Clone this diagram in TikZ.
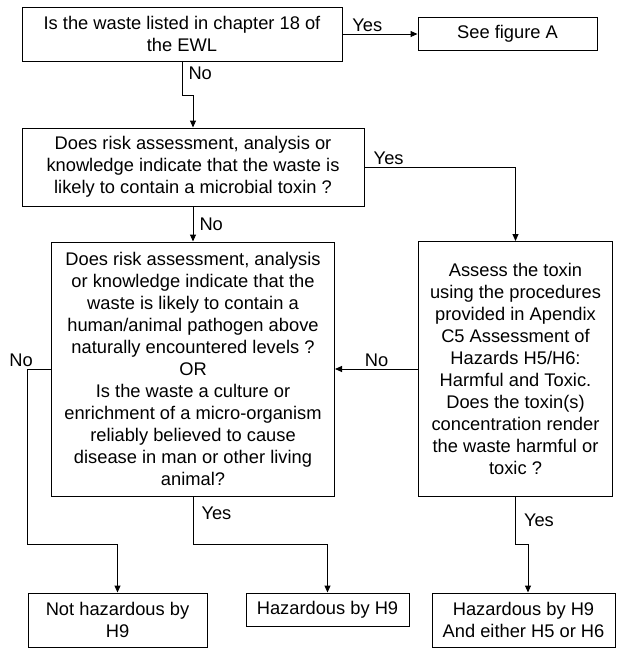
\documentclass[tikz,border=0pt]{standalone}
\usepackage{fontspec}
\setmainfont{Liberation Sans}
\usepackage{tikz}
\usetikzlibrary{arrows.meta,positioning}

\begin{document}
\begin{tikzpicture}[x=1pt,y=-1pt,
  box/.style={draw,line width=1pt,align=center,inner sep=0pt,
    font=\fontsize{18.3}{22}\selectfont},
  flow/.style={line width=1pt,-{Triangle[length=7pt,width=6pt]}},
  lbl/.style={font=\fontsize{18.3}{22}\selectfont,inner sep=2pt}]

\useasboundingbox (0,0) rectangle (616,648);

\node[box,minimum width=320pt,minimum height=54pt] (q1) at (182,34)
  {Is the waste listed in chapter 18 of\\the EWL};

\node[box,minimum width=179pt,minimum height=33pt,right=75pt of q1] (figA)
  {See figure A};

\draw [flow] (q1.east) -- node[lbl,above,pos=0.33] {Yes} (figA.west);

\node[box,minimum width=342pt,minimum height=78pt] (q2) at (193,167)
  {Does risk assessment, analysis or\\knowledge indicate that the waste is\\likely to contain a microbial toxin ?};

\draw [flow] (q1.south) -- node[lbl,right,pos=0.35,xshift=4pt] {No} ++(0,34) -| (q2.north);

\node[box,minimum width=283pt,minimum height=254pt] (q3) at (193,369)
  {Does risk assessment, analysis\\or knowledge indicate that the\\waste is likely to contain a\\human/animal pathogen above\\naturally encountered levels ?\\OR\\Is the waste a culture or\\enrichment of a micro-organism\\reliably believed to cause\\disease in man or other living\\animal?};

\draw [flow] (q2.south) -- node[lbl,right,xshift=4pt] {No} (q3.north);

\node[box,minimum width=194pt,minimum height=255pt,right=83pt of q3] (assess)
  {Assess the toxin\\using the procedures\\provided in Apendix\\C5 Assessment of\\Hazards H5/H6:\\Harmful and Toxic.\\Does the toxin(s)\\concentration render\\the waste harmful or\\toxic ?};

\draw [flow] (q2.east) -| node[lbl,above,pos=0.08] {Yes} (assess.north);

\draw [flow] (assess.west) -- node[lbl,above] {No} (q3.east);

% bottom row
\node[box,minimum width=179pt,minimum height=54pt] (nothaz) at (117.5,620)
  {Not hazardous by\\H9};
\node[box,minimum width=163pt,minimum height=33pt] (haz) at (327.5,609.5)
  {Hazardous by H9};
\node[box,minimum width=183pt,minimum height=54pt] (hazboth) at (523.5,620)
  {Hazardous by H9\\And either H5 or H6};

\draw [flow] (q3.west) -- ++(-24,0) node[lbl,above,xshift=-6pt] {No}
  -- ++(0,175) -| (nothaz.north);

\draw [flow] (q3.south) -- node[lbl,right,pos=0.35,xshift=6pt] {Yes} ++(0,48)
  -| (haz.north);

\draw [flow] (assess.south) -- node[lbl,right,pos=0.5,xshift=6pt] {Yes} ++(0,47)
  -| ([xshift=4.5pt]hazboth.north);

\end{tikzpicture}
\end{document}
